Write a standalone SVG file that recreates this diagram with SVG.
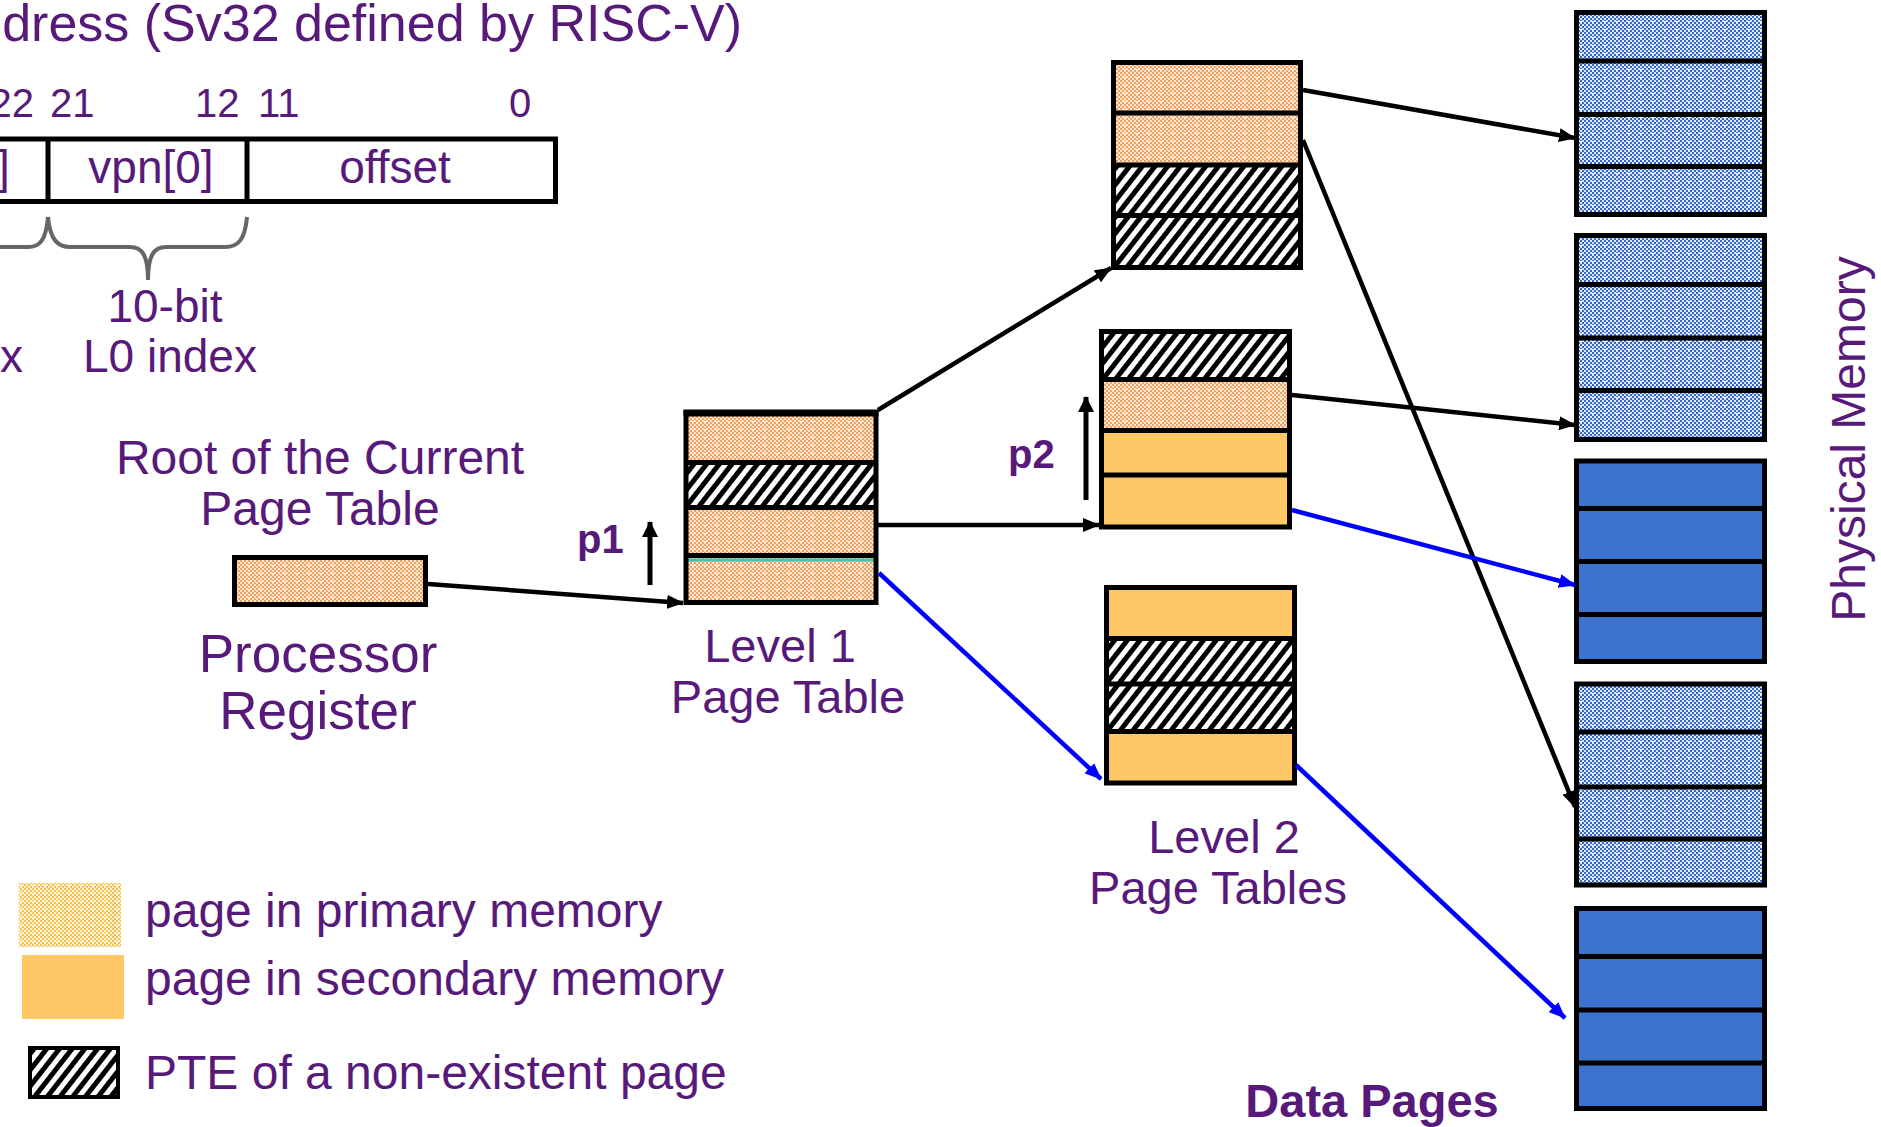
<svg xmlns="http://www.w3.org/2000/svg" width="1881" height="1127" viewBox="0 0 1881 1127">
<style>
  .t { font-family: "Liberation Sans", Arial, sans-serif; fill: #57197a; }
  .b { font-weight: bold; }
  .frame { fill: none; stroke: #000; stroke-width: 5; }
  .div { fill: none; stroke: #000; stroke-width: 5; }
  .pri { fill: url(#dotOr); }
  .sec { fill: #fdc865; }
  .nx { fill: url(#hatch); }
  .mem { fill: url(#dotBl); }
  .memS { fill: #3c73ce; }
  .conn { fill: none; stroke: #000; stroke-width: 4.5; marker-end: url(#ahK); }
  .connB { fill: none; stroke: #0000ff; stroke-width: 4.5; marker-end: url(#ahB); }
  .ptr { fill: none; stroke: #000; stroke-width: 5; marker-end: url(#ahS); }
</style>
<defs>
  <!-- dotted fills: 2px checker with sparse white dots -->
  <pattern id="chkOr" width="4" height="4" patternUnits="userSpaceOnUse">
    <rect width="4" height="4" fill="#fde6d0"/>
    <rect width="2" height="2" fill="#f0a060"/>
    <rect x="2" y="2" width="2" height="2" fill="#f0a060"/>
  </pattern>
  <pattern id="dotOr" width="12" height="8" patternUnits="userSpaceOnUse">
    <rect width="12" height="8" fill="url(#chkOr)"/>
    <rect x="2" y="1" width="2" height="1" fill="#fff"/>
    <rect x="8" y="5" width="2" height="1" fill="#fff"/>
  </pattern>
  <pattern id="chkBl" width="4" height="4" patternUnits="userSpaceOnUse">
    <rect width="4" height="4" fill="#dfe8f8"/>
    <rect width="2" height="2" fill="#3566cc"/>
    <rect x="2" y="2" width="2" height="2" fill="#3566cc"/>
  </pattern>
  <pattern id="dotBl" width="12" height="8" patternUnits="userSpaceOnUse">
    <rect width="12" height="8" fill="url(#chkBl)"/>
    <rect x="2" y="1" width="2" height="1" fill="#fff"/>
    <rect x="8" y="5" width="2" height="1" fill="#fff"/>
  </pattern>
  <pattern id="chkYe" width="4" height="4" patternUnits="userSpaceOnUse">
    <rect width="4" height="4" fill="#fff2d8"/>
    <rect width="2" height="2" fill="#f5c24f"/>
    <rect x="2" y="2" width="2" height="2" fill="#f5c24f"/>
  </pattern>
  <pattern id="dotYe" width="12" height="8" patternUnits="userSpaceOnUse">
    <rect width="12" height="8" fill="url(#chkYe)"/>
    <rect x="2" y="1" width="2" height="1" fill="#fff"/>
    <rect x="8" y="5" width="2" height="1" fill="#fff"/>
  </pattern>
  <!-- diagonal hatch for non-existent pages -->
  <pattern id="hatch" width="10" height="10" patternUnits="userSpaceOnUse" patternTransform="rotate(38)">
    <rect width="10" height="10" fill="#fff"/>
    <rect width="5" height="10" fill="#000"/>
  </pattern>
  <marker id="ahK" markerUnits="userSpaceOnUse" markerWidth="17" markerHeight="14" refX="16" refY="7" orient="auto">
    <path d="M0,0 L17,7 L0,14 z" fill="#000"/>
  </marker>
  <marker id="ahB" markerUnits="userSpaceOnUse" markerWidth="17" markerHeight="14" refX="16" refY="7" orient="auto">
    <path d="M0,0 L17,7 L0,14 z" fill="#0000ff"/>
  </marker>
  <marker id="ahS" markerUnits="userSpaceOnUse" markerWidth="16" markerHeight="16" refX="15" refY="8" orient="auto">
    <path d="M0,0 L16,8 L0,16 z" fill="#000"/>
  </marker>
</defs>

<rect width="1881" height="1127" fill="#fff"/>

<!-- virtual address format -->
<g id="vaddr">
  <text class="t" x="742" y="41" font-size="52" text-anchor="end">dress (Sv32 defined by RISC-V)</text>
  <g font-size="40">
    <text class="t" x="34" y="117" text-anchor="end">22</text>
    <text class="t" x="50" y="117">21</text>
    <text class="t" x="195" y="117">12</text>
    <text class="t" x="258" y="117">11</text>
    <text class="t" x="509" y="117">0</text>
  </g>
  <rect class="frame" x="-10" y="139" width="565.5" height="62.5"/>
  <path class="div" d="M48,139 V201.5 M247,139 V201.5"/>
  <g font-size="46">
    <text class="t" x="-3" y="183">]</text>
    <text class="t" x="151" y="183" text-anchor="middle">vpn[0]</text>
    <text class="t" x="395" y="183" text-anchor="middle">offset</text>
  </g>
  <path d="M-10,247 H28 C40,247 46,240 48,217 M48,217 C50,240 58,247 70,247 H130 C142,247 148,255 148,280 C148,255 154,247 166,247 H225 C238,247 245,240 247,217" fill="none" stroke="#666" stroke-width="4"/>
  <g font-size="46">
    <text class="t" x="165" y="322" text-anchor="middle">10-bit</text>
    <text class="t" x="0" y="372">x</text>
    <text class="t" x="170" y="372" text-anchor="middle">L0 index</text>
  </g>
</g>

<!-- processor register -->
<g id="register">
  <text class="t" x="320" y="474" font-size="48" text-anchor="middle">Root of the Current</text>
  <text class="t" x="320" y="525" font-size="48" text-anchor="middle">Page Table</text>
  <rect class="pri" x="234.5" y="557.5" width="191" height="47"/>
  <rect class="frame" x="234.5" y="557.5" width="191" height="47"/>
  <text class="t" x="318" y="672" font-size="53" text-anchor="middle">Processor</text>
  <text class="t" x="318" y="729" font-size="53" text-anchor="middle">Register</text>
</g>

<!-- level 1 page table -->
<g id="level1">
  <rect class="pri" x="686" y="412.5" width="190" height="50"/>
  <rect class="nx" x="686" y="462.5" width="190" height="45"/>
  <rect class="pri" x="686" y="507.5" width="190" height="48"/>
  <rect class="pri" x="686" y="555.5" width="190" height="47"/>
  <path class="div" d="M686,462.5 H876 M686,507.5 H876 M686,555.5 H876"/>
  <line x1="686" y1="560" x2="876" y2="560" stroke="#40c4b4" stroke-width="3"/>
  <rect class="frame" x="686" y="412.5" width="190" height="190"/>
  <line x1="683.5" y1="413" x2="878.5" y2="413" stroke="#000" stroke-width="7"/>
  <text class="t b" x="577" y="553" font-size="40">p1</text>
  <line class="ptr" x1="650" y1="585" x2="650" y2="522"/>
  <text class="t" x="780" y="662" font-size="47" text-anchor="middle">Level 1</text>
  <text class="t" x="788" y="713" font-size="47" text-anchor="middle">Page Table</text>
</g>

<!-- level 2 page tables -->
<g id="level2a">
  <rect class="pri" x="1113.5" y="62.5" width="187" height="50.5"/>
  <rect class="pri" x="1113.5" y="113" width="187" height="52"/>
  <rect class="nx" x="1113.5" y="165" width="187" height="50.5"/>
  <rect class="nx" x="1113.5" y="215.5" width="187" height="52"/>
  <path class="div" d="M1113.5,113 H1300.5 M1113.5,165 H1300.5 M1113.5,215.5 H1300.5"/>
  <rect class="frame" x="1113.5" y="62.5" width="187" height="205"/>
</g>
<g id="level2b">
  <rect class="nx" x="1101.5" y="331.5" width="188" height="48"/>
  <rect class="pri" x="1101.5" y="379.5" width="188" height="51"/>
  <rect class="sec" x="1101.5" y="430.5" width="188" height="44.5"/>
  <rect class="sec" x="1101.5" y="475" width="188" height="52"/>
  <path class="div" d="M1101.5,379.5 H1289.5 M1101.5,430.5 H1289.5 M1101.5,475 H1289.5"/>
  <rect class="frame" x="1101.5" y="331.5" width="188" height="195.5"/>
  <text class="t b" x="1008" y="468" font-size="40">p2</text>
  <line class="ptr" x1="1086" y1="500" x2="1086" y2="397"/>
</g>
<g id="level2c">
  <rect class="sec" x="1106.5" y="587.5" width="188" height="51"/>
  <rect class="nx" x="1106.5" y="638.5" width="188" height="45.5"/>
  <rect class="nx" x="1106.5" y="684" width="188" height="47.5"/>
  <rect class="sec" x="1106.5" y="731.5" width="188" height="51.5"/>
  <path class="div" d="M1106.5,638.5 H1294.5 M1106.5,684 H1294.5 M1106.5,731.5 H1294.5"/>
  <rect class="frame" x="1106.5" y="587.5" width="188" height="195.5"/>
  <text class="t" x="1224" y="853" font-size="47" text-anchor="middle">Level 2</text>
  <text class="t" x="1218" y="904" font-size="47" text-anchor="middle">Page Tables</text>
</g>

<!-- physical memory pages -->
<g id="page1">
  <rect class="mem" x="1576.5" y="12.5" width="188" height="202"/>
  <path class="div" d="M1576.5,61 H1764.5 M1576.5,114.5 H1764.5 M1576.5,166.5 H1764.5"/>
  <rect class="frame" x="1576.5" y="12.5" width="188" height="202"/>
</g>
<g id="page2">
  <rect class="mem" x="1576.5" y="235.5" width="188" height="204"/>
  <path class="div" d="M1576.5,284.5 H1764.5 M1576.5,338 H1764.5 M1576.5,390.5 H1764.5"/>
  <rect class="frame" x="1576.5" y="235.5" width="188" height="204"/>
</g>
<g id="page3">
  <rect class="memS" x="1576.5" y="461" width="188" height="200.5"/>
  <path class="div" d="M1576.5,508.5 H1764.5 M1576.5,561.5 H1764.5 M1576.5,614.5 H1764.5"/>
  <rect class="frame" x="1576.5" y="461" width="188" height="200.5"/>
</g>
<g id="page4">
  <rect class="mem" x="1576.5" y="684" width="188" height="201"/>
  <path class="div" d="M1576.5,732 H1764.5 M1576.5,787 H1764.5 M1576.5,839 H1764.5"/>
  <rect class="frame" x="1576.5" y="684" width="188" height="201"/>
</g>
<g id="page5">
  <rect class="memS" x="1576.5" y="908.5" width="188" height="200"/>
  <path class="div" d="M1576.5,956.5 H1764.5 M1576.5,1010 H1764.5 M1576.5,1063 H1764.5"/>
  <rect class="frame" x="1576.5" y="908.5" width="188" height="200"/>
</g>
<g id="labels">
  <text class="t" transform="translate(1865,439) rotate(-90)" font-size="48" text-anchor="middle">Physical Memory</text>
  <text class="t b" x="1372" y="1117" font-size="47" text-anchor="middle">Data Pages</text>
</g>

<!-- connectors -->
<g id="connectors">
  <line class="conn" x1="428" y1="584" x2="683" y2="603"/>
  <line class="conn" x1="878" y1="410" x2="1111" y2="268"/>
  <line class="conn" x1="878" y1="525" x2="1099" y2="525"/>
  <line class="connB" x1="879" y1="573" x2="1101" y2="779"/>
  <line class="conn" x1="1303" y1="90" x2="1575" y2="138"/>
  <line class="conn" x1="1303" y1="140" x2="1575" y2="807"/>
  <line class="conn" x1="1292" y1="395" x2="1575" y2="425"/>
  <line class="connB" x1="1292" y1="510" x2="1575" y2="585"/>
  <line class="connB" x1="1296" y1="765" x2="1565" y2="1018"/>
</g>

<!-- legend -->
<g id="legend">
  <rect fill="url(#dotYe)" x="19" y="883" width="102" height="64"/>
  <text class="t" x="145" y="927" font-size="48">page in primary memory</text>
  <rect class="sec" x="22" y="955" width="102" height="64"/>
  <text class="t" x="145" y="995" font-size="48">page in secondary memory</text>
  <rect class="nx" x="30" y="1048" width="88" height="49" stroke="#000" stroke-width="4"/>
  <text class="t" x="145" y="1089" font-size="48">PTE of a non-existent page</text>
</g>
</svg>
